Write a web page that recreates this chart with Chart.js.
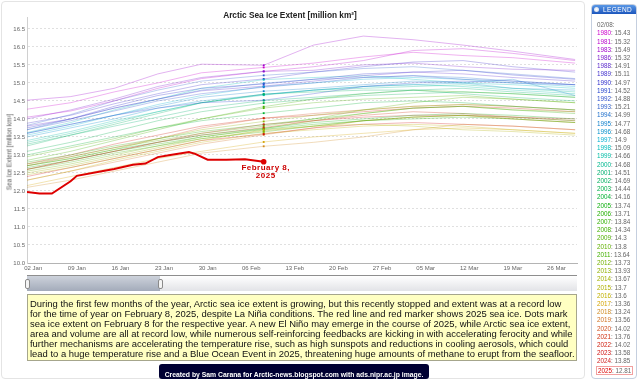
<!DOCTYPE html>
<html>
<head>
<meta charset="utf-8">
<script src="https://cdn.jsdelivr.net/npm/chart.js@4.4.1/dist/chart.umd.min.js"></script>
<style>
  html, body { margin: 0; padding: 0; background: #fff; }
  body { width: 640px; height: 381px; position: relative; overflow: hidden;
         font-family: 'Liberation Sans', Arial, sans-serif; }
  #frame { position: absolute; left: 1px; top: 1px; width: 584px; height: 378px;
           border: 1px solid #e4e4e4; border-radius: 4px; box-sizing: border-box; }
  #chartBox { position: absolute; left: 0; top: 0; width: 582px; height: 276px; }
  #title { position: absolute; left: 0; top: 4px; width: 580px; text-align: center; }
  #title span { font-weight: bold; font-size: 8.3px; color: #222; white-space: nowrap; }
  #yTitle { position: absolute; left: 9px; top: 152px; transform: translate(-50%, -50%) rotate(-90deg);
            white-space: nowrap; font-size: 6.3px; color: #555; }
  #nav { position: absolute; left: 27px; top: 275px; width: 550px; height: 16px;
         background: linear-gradient(#ffffff, #e2e3e7); border-top: 1px solid #8e8e8e;
         box-sizing: border-box; }
  #navSel { position: absolute; left: 0; top: 0; width: 133px; height: 100%;
            background: linear-gradient(#cdd2db, #a3abba); }
  .handle { position: absolute; top: 3px; width: 3px; height: 8px; background: #f4f4f4;
            border: 1px solid #8a8a8a; border-radius: 2px; }
  #note { position: absolute; left: 27px; top: 294px; width: 550px; height: 67px;
          background: #ffffc2; border: 1px solid #a6a68c; box-sizing: border-box; }
  #note .ln { position: absolute; left: 2px; white-space: nowrap; line-height: 10px; color: #111; }
  #credit { position: absolute; left: 159px; top: 364px; width: 270px; height: 15px;
            background: #000033; border-radius: 3px; text-align: center; line-height: 15px; }
  #credit span { color: #fff; font-weight: bold; font-size: 8px; white-space: nowrap; }
  #legend { position: absolute; left: 591px; top: 4px; width: 46px; height: 375px;
            border: 1px solid #c5cfdf; border-radius: 4px; box-sizing: border-box; }
  #legHead { position: absolute; left: 0; top: 0; width: 44px; height: 9px;
             background: linear-gradient(#5a98e6, #1c56bd); border-radius: 3px 3px 0 0;
             color: #fff; font-size: 6.5px; line-height: 9px; }
  #legHead i { position: absolute; left: 2px; top: 2px; width: 5px; height: 5px;
               border-radius: 50%; background: radial-gradient(#ffffff, #c8d4e8); }
  #legHead b { position: absolute; left: 11px; font-weight: normal; letter-spacing: 0.4px; }
  .li { position: absolute; left: 5px; font-size: 6.3px; line-height: 8px; color: #666; white-space: nowrap; }
  .li.cur { left: 4px; border: 1px solid #f2a0a0; padding: 0 1px; line-height: 7px; }
</style>
</head>
<body>
<div id="frame"></div>
<div id="chartBox"><canvas id="chartExtent" width="582" height="276"></canvas></div>
<div id="title"><span>Arctic Sea Ice Extent [million km²]</span></div>
<div id="yTitle">Sea Ice Extent [million km²]</div>
<div id="nav">
  <div id="navSel"></div>
  <div class="handle" style="left:-2px"></div>
  <div class="handle" style="left:131px"></div>
</div>
<div id="note">
  <span class="ln" style="top:4px">During the first few months of the year, Arctic sea ice extent is growing, but this recently stopped and extent was at a record low</span>
  <span class="ln" style="top:14px">for the time of year on February 8, 2025, despite La Niña conditions. The red line and red marker shows 2025 sea ice. Dots mark</span>
  <span class="ln" style="top:24px">sea ice extent on February 8 for the respective year. A new El Niño may emerge in the course of 2025, while Arctic sea ice extent,</span>
  <span class="ln" style="top:34px">area and volume are all at record low, while numerous self-reinforcing feedbacks are kicking in with accelerating ferocity and while</span>
  <span class="ln" style="top:44px">further mechanisms are accelerating the temperature rise, such as high sunspots and reductions in cooling aerosols, which could</span>
  <span class="ln" id="lastLine" style="top:54px">lead to a huge temperature rise and a Blue Ocean Event in 2025, threatening huge amounts of methane to erupt from the seafloor.</span>
</div>
<div id="credit"><span>Created by Sam Carana for Arctic-news.blogspot.com with ads.nipr.ac.jp image.</span></div>
<div id="legend">
  <div id="legHead"><i></i><b>LEGEND</b></div>
</div>

<script>
// ── x axis: day index counted from 01 Jan ──────────────────
const tickDays = [1, 8, 15, 22, 29, 36, 43, 50, 57, 64, 71, 78, 85];
const tickLabels = ['02 Jan', '09 Jan', '16 Jan', '23 Jan', '30 Jan', '06 Feb', '13 Feb',
                    '20 Feb', '27 Feb', '05 Mar', '12 Mar', '19 Mar', '26 Mar'];
const yTicks = [10.0, 10.5, 11.0, 11.5, 12.0, 12.5, 13.0, 13.5, 14.0, 14.5, 15.0, 15.5, 16.0, 16.5];

const sampleDays = [0, 7, 14, 21, 28, 38, 46, 54, 62, 70, 78, 88];
const markerDay = 38; // 08 Feb

const years = ['1980', '1981', '1983', '1986', '1988', '1989', '1990', '1991', '1992', '1993',
               '1994', '1995', '1996', '1997', '1998', '1999', '2000', '2001', '2002', '2003',
               '2004', '2005', '2006', '2007', '2008', '2009', '2010', '2011', '2012', '2013',
               '2014', '2015', '2016', '2017', '2018', '2019', '2020', '2021', '2022', '2023', '2024'];
const feb8Values = [15.43, 15.32, 15.49, 15.32, 14.91, 15.11, 14.97, 14.52, 14.88, 15.21,
                    14.99, 14.77, 14.68, 14.9, 15.09, 14.66, 14.68, 14.51, 14.69, 14.44,
                    14.16, 13.74, 13.71, 13.84, 14.34, 14.3, 13.8, 13.64, 13.73, 13.93,
                    13.67, 13.7, 13.6, 13.36, 13.24, 13.56, 14.02, 13.76, 14.02, 13.58, 13.85];

// million km², at sampleDays
const e1980 = [14.27, 14.45, 14.75, 15.00, 15.28, 15.43, 15.55, 15.72, 15.85, 15.76, 15.70, 15.55];
const e1981 = [14.05, 14.22, 14.50, 14.85, 15.12, 15.32, 15.45, 15.62, 15.90, 15.95, 15.82, 15.62];
const e1983 = [14.52, 14.62, 14.85, 15.25, 15.52, 15.49, 16.05, 16.30, 16.20, 16.05, 15.88, 15.65];
const e1986 = [14.00, 14.25, 14.55, 14.90, 15.15, 15.32, 15.35, 15.50, 15.55, 15.45, 15.38, 15.35];
const e1988 = [13.80, 14.00, 14.30, 14.55, 14.78, 14.91, 15.05, 15.20, 15.30, 15.25, 15.15, 15.05];
const e1989 = [13.88, 14.10, 14.42, 14.70, 14.95, 15.11, 15.30, 15.45, 15.58, 15.62, 15.45, 15.30];
const e1990 = [13.75, 14.00, 14.35, 14.65, 14.85, 14.97, 15.10, 15.25, 15.30, 15.35, 15.22, 15.10];
const e1991 = [13.60, 13.85, 14.10, 14.30, 14.45, 14.52, 14.70, 14.90, 15.00, 15.05, 15.00, 14.95];
const e1992 = [13.70, 13.95, 14.22, 14.50, 14.70, 14.88, 15.00, 15.15, 15.20, 15.10, 15.05, 14.95];
const e1993 = [13.82, 14.12, 14.50, 14.80, 15.05, 15.21, 15.30, 15.40, 15.45, 15.35, 15.25, 15.12];
const e1994 = [13.70, 14.00, 14.30, 14.55, 14.80, 14.99, 15.10, 15.15, 15.20, 15.15, 15.05, 14.95];
const e1995 = [13.60, 13.85, 14.10, 14.35, 14.60, 14.77, 14.85, 14.95, 15.05, 15.00, 15.10, 14.65];
const e1996 = [13.50, 13.75, 14.00, 14.30, 14.50, 14.68, 14.80, 14.90, 14.95, 15.00, 14.85, 14.80];
const e1997 = [13.55, 13.80, 14.10, 14.40, 14.65, 14.90, 15.00, 15.10, 15.15, 15.10, 15.00, 14.90];
const e1998 = [13.62, 13.90, 14.25, 14.55, 14.85, 15.09, 15.15, 15.20, 15.10, 15.00, 14.95, 14.85];
const e1999 = [13.40, 13.65, 13.95, 14.20, 14.45, 14.66, 14.80, 14.90, 14.95, 14.90, 14.80, 14.70];
const e2000 = [13.35, 13.60, 13.90, 14.20, 14.45, 14.68, 14.80, 14.85, 14.90, 14.95, 14.85, 14.75];
const e2001 = [13.30, 13.55, 13.80, 14.05, 14.30, 14.51, 14.60, 14.70, 14.80, 14.85, 14.75, 14.65];
const e2002 = [13.25, 13.55, 13.85, 14.15, 14.45, 14.69, 14.75, 14.80, 14.80, 14.70, 14.60, 14.50];
const e2003 = [13.10, 13.35, 13.65, 13.95, 14.20, 14.44, 14.55, 14.65, 14.70, 14.75, 14.70, 14.60];
const e2004 = [13.00, 13.25, 13.50, 13.75, 13.95, 14.16, 14.30, 14.45, 14.50, 14.45, 14.35, 14.25];
const e2005 = [12.70, 12.90, 13.15, 13.35, 13.55, 13.74, 13.90, 14.00, 14.10, 14.15, 14.10, 14.00];
const e2006 = [12.65, 12.85, 13.10, 13.30, 13.50, 13.71, 13.85, 13.95, 14.00, 14.05, 14.00, 13.90];
const e2007 = [12.80, 13.00, 13.25, 13.45, 13.65, 13.84, 14.00, 14.15, 14.30, 14.35, 14.25, 14.15];
const e2008 = [12.85, 13.10, 13.40, 13.70, 14.00, 14.34, 14.55, 14.70, 14.80, 14.75, 14.70, 14.60];
const e2009 = [12.95, 13.20, 13.45, 13.75, 14.00, 14.30, 14.45, 14.55, 14.60, 14.65, 14.55, 14.45];
const e2010 = [12.75, 12.95, 13.20, 13.40, 13.60, 13.80, 14.00, 14.25, 14.45, 14.60, 14.55, 14.45];
const e2011 = [12.60, 12.80, 13.05, 13.25, 13.45, 13.64, 13.80, 13.95, 14.05, 14.10, 14.05, 13.95];
const e2012 = [12.55, 12.75, 13.00, 13.25, 13.50, 13.73, 13.95, 14.15, 14.30, 14.35, 14.25, 14.20];
const e2013 = [12.70, 12.90, 13.15, 13.45, 13.70, 13.93, 14.10, 14.25, 14.35, 14.40, 14.35, 14.25];
const e2014 = [12.50, 12.70, 12.95, 13.20, 13.45, 13.67, 13.80, 13.95, 14.05, 14.10, 14.00, 13.90];
const e2015 = [12.45, 12.65, 12.90, 13.15, 13.40, 13.70, 13.80, 13.85, 13.80, 13.70, 13.65, 13.55];
const e2016 = [12.30, 12.55, 12.85, 13.10, 13.35, 13.60, 13.70, 13.80, 13.85, 13.80, 13.70, 13.60];
const e2017 = [12.15, 12.40, 12.65, 12.90, 13.10, 13.36, 13.50, 13.60, 13.70, 13.75, 13.70, 13.60];
const e2018 = [12.10, 12.30, 12.55, 12.80, 13.05, 13.24, 13.35, 13.50, 13.70, 13.85, 13.80, 13.70];
const e2019 = [12.30, 12.55, 12.80, 13.05, 13.30, 13.56, 13.75, 13.95, 14.05, 14.10, 14.00, 13.90];
const e2020 = [12.70, 12.95, 13.20, 13.45, 13.75, 14.02, 14.15, 14.25, 14.35, 14.40, 14.35, 14.25];
const e2021 = [12.60, 12.85, 13.10, 13.35, 13.55, 13.76, 13.95, 14.10, 14.20, 14.15, 14.05, 13.95];
const e2022 = [12.75, 13.00, 13.30, 13.55, 13.80, 14.02, 14.10, 14.20, 14.30, 14.35, 14.30, 14.20];
const e2023 = [12.40, 12.65, 12.90, 13.15, 13.40, 13.58, 13.75, 13.85, 13.90, 13.85, 13.80, 13.70];
const e2024 = [12.60, 12.85, 13.10, 13.35, 13.60, 13.85, 13.95, 14.05, 14.10, 14.10, 14.05, 14.00];

const yearRows = [e1980, e1981, e1983, e1986, e1988, e1989, e1990, e1991, e1992, e1993,
                  e1994, e1995, e1996, e1997, e1998, e1999, e2000, e2001, e2002, e2003,
                  e2004, e2005, e2006, e2007, e2008, e2009, e2010, e2011, e2012, e2013,
                  e2014, e2015, e2016, e2017, e2018, e2019, e2020, e2021, e2022, e2023, e2024];

// 2025 so far
const days2025 = [0, 2, 4, 7, 8, 12, 14, 17, 19, 21, 23, 26, 27, 29, 32, 35, 38];
const e2025 = [11.97, 11.93, 11.93, 12.27, 12.42, 12.55, 12.61, 12.73, 12.76, 12.94, 13.0,
               13.08, 13.03, 12.87, 12.87, 12.88, 12.81];

// rainbow per year (legend text colour; lines use it translucent)
const yearColors = ['#cc00cc', '#b800cc', '#a000cc', '#7a1ccc', '#5a2acc', '#4030cc', '#2a2acc',
                    '#2040cc', '#3050cc', '#3060cc', '#2070cc', '#1080cc', '#0090cc', '#00aed0',
                    '#00bcbc', '#00bca6', '#00b890', '#00b072', '#00b060', '#00b04c', '#00b032',
                    '#10b010', '#22b000', '#30b000', '#40b000', '#50b000', '#60b000', '#40b000',
                    '#74b000', '#90b000', '#a0b000', '#b0b000', '#c0b000', '#d4a400', '#d08a20',
                    '#d07020', '#d05020', '#d03010', '#d02010', '#d01010', '#d02020'];
const color2025 = '#dd0000';

function withAlpha(hex, a) {
  const n = parseInt(hex.slice(1), 16);
  return `rgba(${n >> 16}, ${(n >> 8) & 255}, ${n & 255}, ${a})`;
}

// ── Feb 8 annotation under the red marker ─────────────────
const febLabel = {
  id: 'febLabel',
  afterDatasetsDraw(chart) {
    const { ctx, scales: { x, y } } = chart;
    const px = x.getPixelForValue(markerDay) + 2;
    const py = y.getPixelForValue(e2025[e2025.length - 1]);
    ctx.save();
    ctx.fillStyle = '#cc0000';
    ctx.font = "bold 8px 'Liberation Sans', Arial, sans-serif";
    ctx.textAlign = 'center';
    ctx.textBaseline = 'middle';
    ctx.letterSpacing = '0.5px';
    ctx.fillText('February 8,', px, py + 6.5);
    ctx.fillText('2025', px, py + 14);
    ctx.restore();
  }
};

const datasets = [];

datasets.push({
  label: 'Feb 8',
  type: 'scatter',
  data: feb8Values.map(v => ({ x: markerDay, y: v })),
  pointStyle: 'rect',
  pointRadius: 1.3,
  pointBorderWidth: 0,
  pointBackgroundColor: yearColors,
  order: 0
});

datasets.push({
  label: '2025',
  data: days2025.map((d, i) => ({ x: d, y: e2025[i] })),
  borderColor: color2025,
  borderWidth: 2,
  pointRadius: days2025.map((d, i) => (i === days2025.length - 1 ? 2.8 : 0)),
  pointBackgroundColor: color2025,
  pointBorderWidth: 0,
  tension: 0,
  order: 1
});

years.forEach((yr, i) => {
  datasets.push({
    label: yr,
    data: sampleDays.map((d, k) => ({ x: d, y: yearRows[i][k] })),
    borderColor: withAlpha(yearColors[i], 0.3),
    borderWidth: 1,
    pointRadius: 0,
    tension: 0,
    order: 2
  });
});

new Chart(document.getElementById('chartExtent'), {
  type: 'line',
  data: { datasets },
  options: {
    responsive: false,
    animation: false,
    events: [],
    layout: { padding: { top: 17, right: 5, left: 0, bottom: 0 } },
    plugins: { legend: { display: false }, tooltip: { enabled: false }, title: { display: false } },
    scales: {
      x: {
        type: 'linear',
        min: 0,
        max: 88.3,
        afterBuildTicks: (s) => { s.ticks = tickDays.map(v => ({ value: v })); },
        afterFit: (s) => { s.height = 13; },
        ticks: {
          autoSkip: false,
          maxRotation: 0,
          padding: 2,
          color: '#666',
          font: { size: 6, family: "'Liberation Sans', Arial, sans-serif" },
          callback: (v) => tickLabels[tickDays.indexOf(v)]
        },
        grid: { display: false, drawTicks: false },
        border: { display: true, color: '#b4b4b4', width: 1 }
      },
      y: {
        min: 10,
        max: 16.83,
        afterBuildTicks: (s) => { s.ticks = yTicks.map(v => ({ value: v })); },
        afterFit: (s) => { s.width = 27; },
        ticks: {
          padding: 2,
          color: '#666',
          font: { size: 6, family: "'Liberation Sans', Arial, sans-serif" },
          callback: (v) => v.toFixed(1)
        },
        grid: { color: '#e0e0e0', drawTicks: false },
        border: { display: true, color: '#d0d0d0', dash: [2, 2] }
      }
    }
  },
  plugins: [febLabel]
});

// ── HTML legend ──────────────────────────────────────────
const legend = document.getElementById('legend');
function legendRow(top, html, cls) {
  const el = document.createElement('div');
  el.className = 'li' + (cls ? ' ' + cls : '');
  el.style.top = top + 'px';
  el.innerHTML = html;
  legend.appendChild(el);
}
legendRow(15.5, '02/08:');
years.forEach((yr, i) => {
  legendRow(24.3 + i * 8.2, `<span style="color:${yearColors[i]}">${yr}</span>: ${feb8Values[i]}`);
});
legendRow(24.3 + years.length * 8.2, `<span style="color:${color2025}">2025</span>: ${e2025[e2025.length - 1]}`, 'cur');

// fit text blocks to the widths seen in the picture
function fitFont(el, target) {
  const w = el.getBoundingClientRect().width;
  const fs = parseFloat(getComputedStyle(el).fontSize);
  return fs * target / w;
}
const last = document.getElementById('lastLine');
last.style.fontSize = '10px';
const noteSize = fitFont(last, 545);
document.querySelectorAll('#note .ln').forEach(el => { el.style.fontSize = noteSize + 'px'; });
const cr = document.querySelector('#credit span');
cr.style.fontSize = fitFont(cr, 259) + 'px';
</script>
</body>
</html>
